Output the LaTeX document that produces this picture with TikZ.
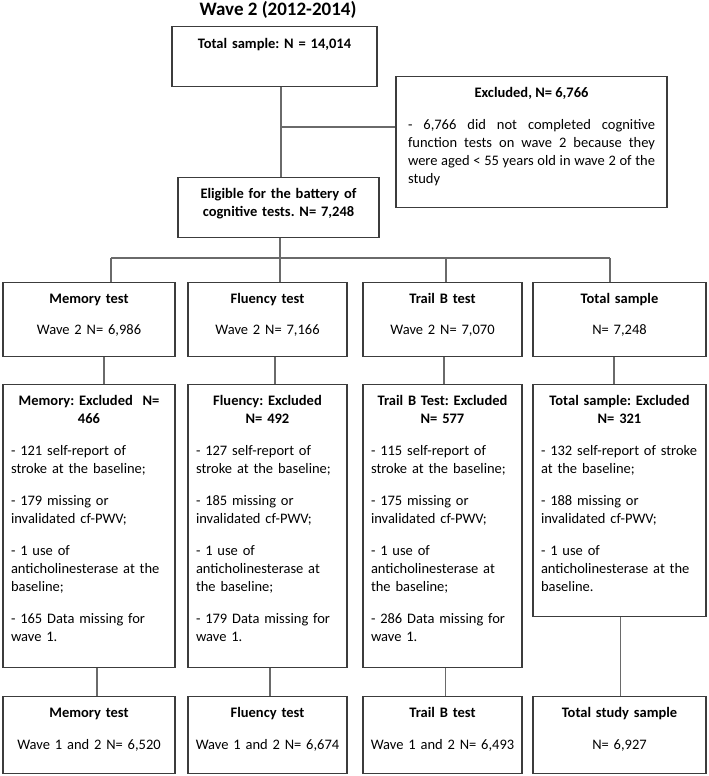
\documentclass[tikz,border=0pt]{standalone}
\usepackage{fontspec}
\setmainfont{Carlito}
\definecolor{boxgray}{HTML}{3C3C3C}
\definecolor{linkgray}{HTML}{6A6A6A}
\newcommand{\bodysize}{\fontsize{14.5}{18}\selectfont\frenchspacing}
\tikzstyle{box} = [rectangle, draw=boxgray, line width=1.2pt, anchor=north, inner xsep=8pt, inner ysep=0pt, text height=21pt, font=\bodysize]
\tikzstyle{countbox} = [box, inner xsep=3pt, align=center]
\tikzstyle{exclbox} = [box, align=left]
\tikzstyle{notebox} = [box, inner xsep=12pt, align=justify]
\tikzstyle{heading} = [font=\bfseries\fontsize{19}{23}\selectfont]
\tikzstyle{link} = [draw=linkgray, line width=1.5pt]

\begin{document}
\begin{tikzpicture}[x=1pt, y=-1pt]
            \useasboundingbox (0,0) rectangle (709,776);
            \node [heading] at (278,10) (title) {Wave 2 (2012-2014)};
            \node [countbox, text width=199pt, text height=22pt, text depth=38pt] at (274.5,26) (total0) {\textbf{Total sample: N = 14,014}};
            \node [notebox, text width=247pt, text depth=110pt] at (531.5,76) (excl0) {{\centering\bfseries Excluded, N= 6,766\par}\vspace{14pt}
                - 6,766 did not completed cognitive\linebreak function tests on wave 2 because they\linebreak were aged < 55 years old in wave 2 of the\linebreak study};
            \node [countbox, text width=195pt, text depth=39pt] at (278.5,177) (elig) {{\bfseries Eligible for the battery of\\cognitive tests. N= 7,248}};

            % wave 2 counts
            \node [countbox, text width=166pt, text depth=53pt] at (89,282) (mem1) {\textbf{Memory test}\\[13pt]Wave 2 N= 6,986};
            \node [countbox, text width=153pt, text depth=53pt] at (267.5,282) (flu1) {\textbf{Fluency test}\\[13pt]Wave 2 N= 7,166};
            \node [countbox, text width=153pt, text depth=53pt] at (442.5,282) (trail1) {\textbf{Trail B test}\\[13pt]Wave 2 N= 7,070};
            \node [countbox, text width=167pt, text depth=53pt] at (619.5,282) (tot1) {\textbf{Total sample}\\[13pt]N= 7,248};

            % exclusions
            \node [exclbox, text width=156pt, text depth=262pt] at (89,384) (mem2) {{\centering\bfseries Memory: Excluded\ \ N=\\466\par}\vspace{14pt}
                - 121 self-report of\\stroke at the baseline;\\[14pt]
                - 179 missing or\\invalidated cf-PWV;\\[14pt]
                - 1 use of\\anticholinesterase at the\\baseline;\\[14pt]
                - 165 Data missing for\\wave 1.};
            \node [exclbox, text width=143pt, text depth=262pt] at (267.5,384) (flu2) {{\centering\bfseries Fluency: Excluded\\N= 492\par}\vspace{14pt}
                - 127 self-report of\\stroke at the baseline;\\[14pt]
                - 185 missing or\\invalidated cf-PWV;\\[14pt]
                - 1 use of\\anticholinesterase at\\the baseline;\\[14pt]
                - 179 Data missing for\\wave 1.};
            \node [exclbox, text width=143pt, text depth=262pt] at (442.5,384) (trail2) {{\centering\bfseries Trail B Test: Excluded\\N= 577\par}\vspace{14pt}
                - 115 self-report of\\stroke at the baseline;\\[14pt]
                - 175 missing or\\invalidated cf-PWV;\\[14pt]
                - 1 use of\\anticholinesterase at\\the baseline;\\[14pt]
                - 286 Data missing for\\wave 1.};
            \node [exclbox, text width=157pt, text depth=211pt] at (619.5,384) (tot2) {{\centering\bfseries Total sample: Excluded\\N= 321\par}\vspace{14pt}
                - 132 self-report of stroke\\at the baseline;\\[14pt]
                - 188 missing or\\invalidated cf-PWV;\\[14pt]
                - 1 use of\\anticholinesterase at the\\baseline.};

            % final samples
            \node [countbox, text width=166pt, text depth=56pt] at (89,696) (mem3) {\textbf{Memory test}\\[14pt]Wave 1 and 2 N= 6,520};
            \node [countbox, text width=153pt, text depth=56pt] at (267.5,696) (flu3) {\textbf{Fluency test}\\[14pt]Wave 1 and 2 N= 6,674};
            \node [countbox, text width=153pt, text depth=56pt] at (442.5,696) (trail3) {\textbf{Trail B test}\\[14pt]Wave 1 and 2 N= 6,493};
            \node [countbox, text width=167pt, text depth=56pt] at (619.5,696) (tot3) {\textbf{Total study sample}\\[14pt]N= 6,927};

            \coordinate (split) at (281,127);
            \coordinate (forkL) at (111,258);
            \coordinate (forkR) at (610,258);

            \draw [link] ([xshift=6.5]total0.south) -- ([xshift=2.5]elig.north);
            \draw [link] (split) -- (split -| excl0.west);
            \draw [link] ([xshift=1.5]elig.south) -- ([xshift=12.5]flu1.north);
            \draw [link] (forkL) -- (forkR);
            \draw [link] (forkL) -- (forkL |- mem1.north);
            \draw [link] ([xshift=3.5]trail1.north |- forkL) -- ([xshift=3.5]trail1.north);
            \draw [link] (forkR) -- (forkR |- tot1.north);
            \draw [link] ([xshift=15]mem1.south) -- ([xshift=15]mem2.north);
            \draw [link] ([xshift=7.5]flu1.south) -- ([xshift=7.5]flu2.north);
            \draw [link] ([xshift=1.5]trail1.south) -- ([xshift=1.5]trail2.north);
            \draw [link] ([xshift=-5.5]tot1.south) -- ([xshift=-5.5]tot2.north);
            \draw [link] ([xshift=8]mem2.south) -- ([xshift=8]mem3.north);
            \draw [link] ([xshift=2.5]flu2.south) -- ([xshift=2.5]flu3.north);
            \draw [link] ([xshift=3]trail2.south) -- ([xshift=3]trail3.north);
            \draw [link] ([xshift=1]tot2.south) -- ([xshift=1]tot3.north);
\end{tikzpicture}
\end{document}
